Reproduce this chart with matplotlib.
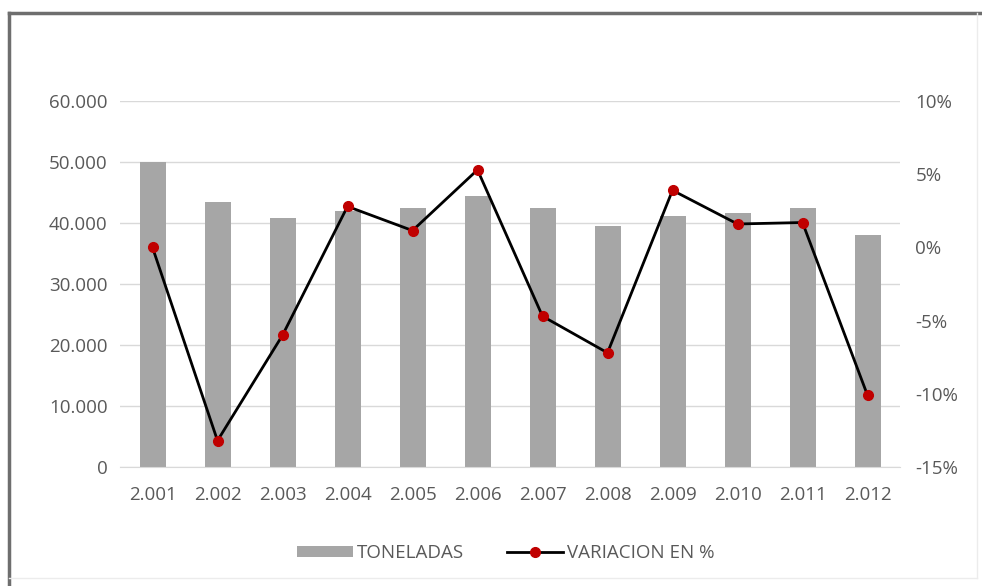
import numpy as np
import matplotlib.pyplot as plt
from matplotlib.lines import Line2D
from matplotlib.patches import Patch
from matplotlib.ticker import FuncFormatter

plt.rcParams['font.family'] = ['Open Sans', 'DejaVu Sans']

years = ['2.001', '2.002', '2.003', '2.004', '2.005', '2.006',
         '2.007', '2.008', '2.009', '2.010', '2.011', '2.012']
toneladas = [50000, 43500, 40900, 42000, 42500, 44500,
             42500, 39500, 41100, 41700, 42500, 38000]
variacion = [0.0, -13.2, -6.0, 2.8, 1.15, 5.3,
             -4.7, -7.2, 3.9, 1.6, 1.7, -10.1]

label_color = '#595959'
grid_color = '#d9d9d9'
fs = 13.5

fig = plt.figure(figsize=(9.82, 5.86), dpi=100)
ax = fig.add_axes([0.1222, 0.2031, 0.7943, 0.6245])
x = np.arange(len(years))

ax.bar(x, toneladas, width=0.4, color='#a6a6a6', zorder=2)
ax.set_ylim(0, 60000)
ax.set_yticks(np.arange(0, 60001, 10000))
ax.yaxis.set_major_formatter(FuncFormatter(lambda v, p: f'{int(v):,}'.replace(',', '.')))
ax.set_xlim(-0.5, len(years) - 0.5)
ax.set_xticks(x)
ax.set_xticklabels(years)
ax.grid(axis='y', color=grid_color, linewidth=1, zorder=0)
for s in ax.spines.values():
    s.set_visible(False)
ax.spines['bottom'].set_visible(True)
ax.spines['bottom'].set_color(grid_color)
ax.tick_params(length=0, labelsize=fs, labelcolor=label_color)
ax.tick_params(axis='x', pad=14)
ax.tick_params(axis='y', pad=9)

ax2 = ax.twinx()
ax2.plot(x, variacion, color='black', linewidth=2, marker='o', markersize=7,
         markerfacecolor='#c00000', markeredgecolor='#c00000', zorder=3)
ax2.set_ylim(-15, 10)
ax2.set_yticks(np.arange(-15, 11, 5))
ax2.yaxis.set_major_formatter(FuncFormatter(lambda v, p: f'{int(v)}%'))
for s in ax2.spines.values():
    s.set_visible(False)
ax2.tick_params(length=0, labelsize=fs, labelcolor=label_color, pad=11)

handles = [Patch(facecolor='#a6a6a6', label='TONELADAS'),
           Line2D([0], [0], color='black', linewidth=2, marker='o', markersize=7,
                  markerfacecolor='#c00000', markeredgecolor='#c00000',
                  label='VARIACION EN %')]
leg = fig.legend(handles=handles, loc='center', bbox_to_anchor=(0.515, 0.056),
                 ncol=2, frameon=False, fontsize=fs, handlelength=3.0,
                 handleheight=0.45, columnspacing=2.3, handletextpad=0.2)
for t in leg.get_texts():
    t.set_color(label_color)

# chart frame
fig.add_artist(Line2D([9 / 982, 9 / 982], [1 - 13 / 586, 0], color='#6e6e6e', linewidth=2.5))
fig.add_artist(Line2D([9 / 982, 1], [1 - 13 / 586, 1 - 13 / 586], color='#6e6e6e', linewidth=2.5))
fig.add_artist(Line2D([977 / 982, 977 / 982], [1 - 13 / 586, 8 / 586], color='#ececec', linewidth=1))
fig.add_artist(Line2D([9 / 982, 977 / 982], [8 / 586, 8 / 586], color='#ececec', linewidth=1))

fig.savefig('out.png', dpi=100)
